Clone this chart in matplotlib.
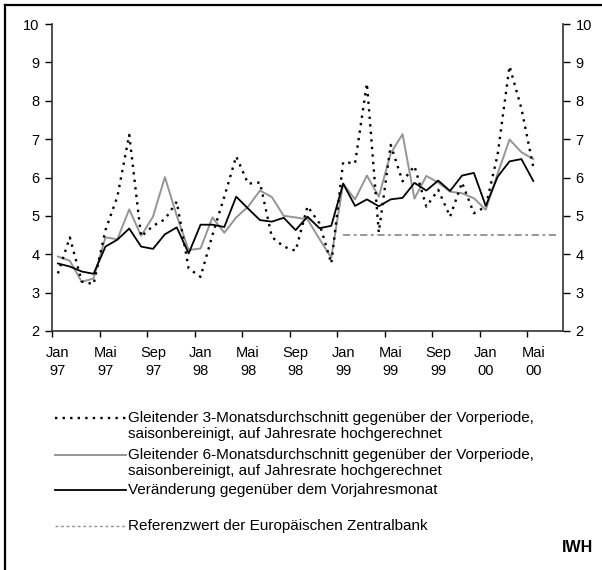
import numpy as np
import matplotlib
matplotlib.use("Agg")
import matplotlib.pyplot as plt
from matplotlib.lines import Line2D

plt.rcParams['font.family'] = ['Liberation Sans', 'DejaVu Sans']

# Monatswerte Jan 97 .. Mai 00
months = ["Jan", "Feb", "Mär", "Apr", "Mai", "Jun", "Jul", "Aug", "Sep", "Okt", "Nov", "Dez"]
years = ["97", "98", "99", "00"]

gd3 = [3.50, 4.44, 3.29, 3.22, 4.63, 5.50, 7.11, 4.46, 4.74, 4.91, 5.37, 3.63,
       3.41, 4.50, 5.50, 6.55, 5.84, 5.87, 4.45, 4.20, 4.09, 5.25, 4.81, 3.76,
       6.40, 6.37, 8.45, 4.57, 6.85, 5.90, 6.30, 5.24, 5.68, 4.98, 5.87, 5.07,
       5.24, 6.60, 8.90, 7.80, 6.27]
gd6 = [3.94, 3.83, 3.28, 3.37, 4.44, 4.39, 5.17, 4.48, 4.98, 6.01, 5.00, 4.11,
       4.15, 4.96, 4.56, 4.96, 5.24, 5.66, 5.49, 5.00, 4.96, 4.91, 4.40, 3.91,
       5.84, 5.43, 6.05, 5.50, 6.63, 7.13, 5.45, 6.04, 5.87, 5.63, 5.59, 5.46,
       5.16, 6.10, 6.99, 6.66, 6.48]
vorjahr = [3.76, 3.68, 3.55, 3.49, 4.20, 4.38, 4.67, 4.20, 4.14, 4.52, 4.70, 4.02,
           4.77, 4.77, 4.71, 5.50, 5.19, 4.89, 4.85, 4.95, 4.63, 4.98, 4.68, 4.74,
           5.84, 5.26, 5.43, 5.25, 5.43, 5.47, 5.86, 5.66, 5.92, 5.65, 6.05, 6.12,
           5.26, 6.02, 6.42, 6.48, 5.91]
# Referenzwert der EZB ab Jan 99 bis Jul 00
ezb = [4.5] * 19
ezb_start = 24

n_cat = 43  # Jan 97 .. Jul 00
labels = [f"{months[i % 12]}\n{years[i // 12]}" for i in range(0, n_cat - 2, 4)]

fig = plt.figure(figsize=(6.02, 5.70), dpi=100)
ax = fig.add_axes([52 / 602, 1 - 331 / 570, 511 / 602, 307 / 570])

x = np.arange(len(gd3))
ax.plot(np.arange(ezb_start, ezb_start + len(ezb)), ezb, color='#909090', lw=1.3,
        linestyle=(0, (4, 2, 1.5, 2)))
ax.plot(x, gd6, color='#959595', lw=1.4)
ax.plot(x, vorjahr, color='black', lw=1.3)
ax.plot(x, gd3, color='black', lw=1.7, linestyle=(0, (1, 2.2)))

ax.set_xlim(-0.5, n_cat - 0.5)
ax.set_ylim(2, 10)
ax.set_yticks(range(2, 11))
ax.tick_params(axis='y', which='both', left=True, right=True, labelleft=True,
               labelright=True, length=5, width=1, labelsize=10.5, pad=4, colors='black')
ax.set_xticks(np.arange(-0.5, n_cat - 2, 4))
ax.set_xticklabels([])
ax.set_xticks(np.arange(0, n_cat - 2, 4), minor=True)
ax.set_xticklabels(labels, minor=True, fontsize=10.5, linespacing=1.3)
ax.tick_params(axis='x', which='major', length=4, width=1, direction='out')
ax.tick_params(axis='x', which='minor', length=0, pad=11)

for s in ['left', 'right', 'bottom']:
    ax.spines[s].set_color('#333333')
    ax.spines[s].set_linewidth(1.2)
ax.spines['top'].set_visible(False)

# Legende
def fx(px):
    return px / 602

def fy(py):
    return 1 - py / 570

entries = [
    (418, "Gleitender 3-Monatsdurchschnitt gegenüber der Vorperiode,\nsaisonbereinigt, auf Jahresrate hochgerechnet",
     dict(color='black', lw=1.7, linestyle=(0, (1, 2.2)))),
    (455, "Gleitender 6-Monatsdurchschnitt gegenüber der Vorperiode,\nsaisonbereinigt, auf Jahresrate hochgerechnet",
     dict(color='#959595', lw=1.4)),
    (490, "Veränderung gegenüber dem Vorjahresmonat",
     dict(color='black', lw=1.3)),
    (526, "Referenzwert der Europäischen Zentralbank",
     dict(color='#909090', lw=1.0, linestyle=(0, (2, 2)))),
]
for ypx, txt, style in entries:
    fig.add_artist(Line2D([fx(55), fx(126)], [fy(ypx), fy(ypx)], **style))
    fig.text(fx(128), fy(ypx - 7), txt, fontsize=11, va='top', ha='left',
             linespacing=1.17)

fig.text(fx(593), fy(547), "IWH", fontsize=11.5, fontweight='bold', ha='right', va='center')

# Rahmen
fig.add_artist(Line2D([fx(5), fx(5)], [fy(5), 0], color='black', lw=1.6))
fig.add_artist(Line2D([fx(5), 1], [fy(5), fy(5)], color='black', lw=1.6))

fig.savefig("out.png", dpi=100)
